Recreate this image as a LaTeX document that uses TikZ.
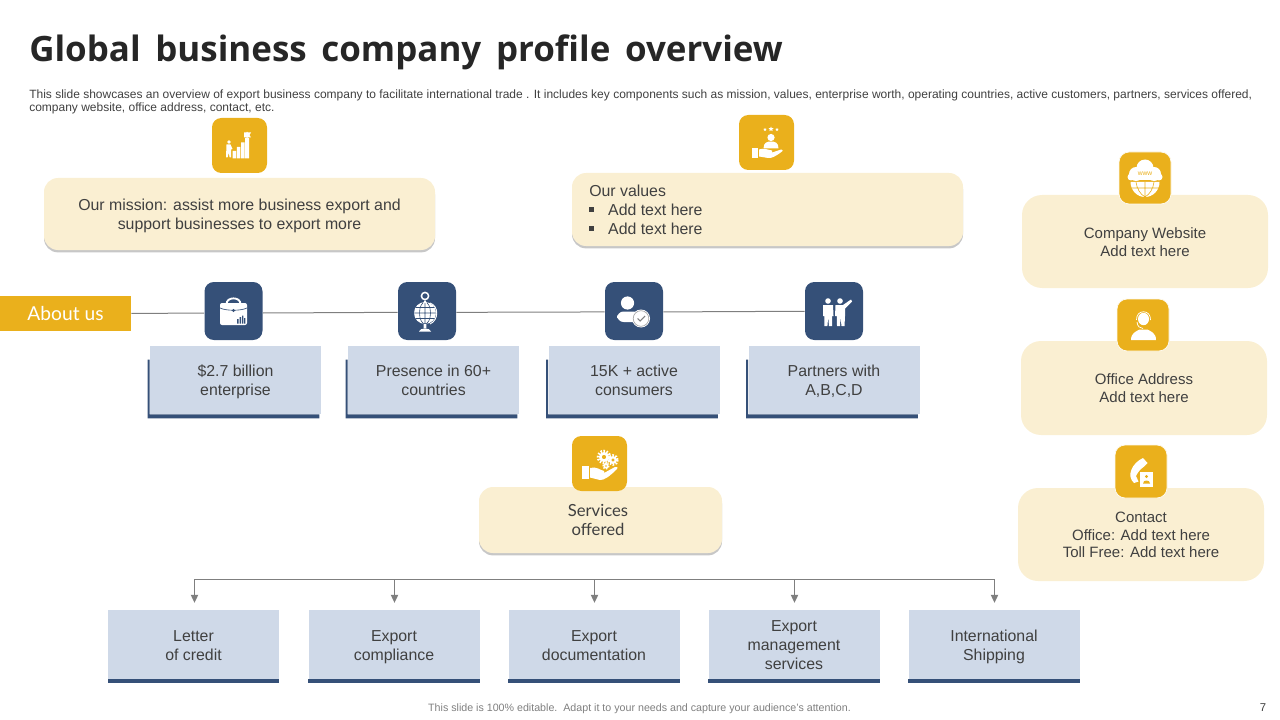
\documentclass[tikz,border=0pt]{standalone}
\usepackage{fontspec}
\setmainfont{Liberation Sans}
\newfontfamily\titlefont{Open Sans}
\newfontfamily\latofont{Lato}
\usetikzlibrary{shadows,calc,arrows.meta}
\definecolor{gold}{HTML}{EAB01C}
\definecolor{cream}{HTML}{FAEFD2}
\definecolor{navy}{HTML}{355078}
\definecolor{pale}{HTML}{CFD9E8}
\definecolor{ink}{HTML}{404040}
\definecolor{wire}{HTML}{7F7F7F}
\newcommand{\T}{\rule{0pt}{11.4pt}}
\tikzset{
  dims/.style 2 args={minimum width=#1*0.75pt,minimum height=#2*0.75pt},
  body/.style={text=ink,align=center,inner sep=0pt,font=\fontsize{11.9}{14.25}\selectfont,
    execute at end node={\rule[-3pt]{0pt}{3pt}}},
  creambox/.style={body,fill=cream,rounded corners=10.5pt,drop shadow={shadow xshift=0pt,shadow yshift=-1.8pt,opacity=.4,fill=black!55}},
  sidebox/.style={body,fill=cream,rounded corners=15pt,dims={246}{93},font=\fontsize{11.25}{13.4}\selectfont},
  palebox/.style={body,fill=pale,dims={171}{68}},
  lowbox/.style={body,fill=pale,dims={171}{70}},
  goldicon/.style={fill=gold,rounded corners=7pt,dims={55}{55},inner sep=0pt},
  sideicon/.style={fill=gold,draw=white!60!cream,line width=.6pt,rounded corners=7.5pt,dims={52}{52},inner sep=0pt},
  navyicon/.style={fill=navy,rounded corners=7pt,dims={58}{58},inner sep=0pt},
  rail/.style={draw=wire,line width=.75pt},
  feed/.style={draw=wire,line width=.75pt,-{Triangle[length=6pt,width=5.5pt]},shorten >=5.2pt},
  tiny/.style={inner sep=0pt,text=ink}
}
\newcommand{\lbar}[1]{\fill[navy] ([shift={(-2,14)}]#1.north west) -- ([shift={(0,14)}]#1.north west) -- (#1.south west) -- ([shift={(-2,0)}]#1.south east) -- ([shift={(-2,4)}]#1.south east) -- ([shift={(-2,4)}]#1.south west) -- cycle;}
\newcommand{\ubar}[1]{\fill[navy] ([shift={(0,-1)}]#1.south west) rectangle ([shift={(0,3)}]#1.south east);}
\newcommand{\tinystar}[3]{\fill[white,shift={(#1,#2)},scale=#3] (0,-1) -- (.3,-.3) -- (1,-.3) -- (.45,.15) -- (.65,.9) -- (0,.45) -- (-.65,.9) -- (-.45,.15) -- (-1,-.3) -- (-.3,-.3) -- cycle;}
\newcommand{\tinygear}[3]{\draw[white,line width=#3*0.45pt,dash pattern=on 1.1pt off 1.1pt] (#1,#2) circle (#3*1.15);\fill[white,even odd rule] (#1,#2) circle (#3) (#1,#2) circle (#3*.45);}
\begin{document}
\begin{tikzpicture}[x=0.75pt,y=-0.75pt]
\useasboundingbox (0,0) rectangle (1280,720);

% heading
\node[anchor=west,inner sep=0pt,text=black!85] (title) at (29,52) {\titlefont\fontsize{26.2}{30}\bfseries\selectfont\spaceskip=.42em Global business company profile overview};
\node[anchor=north west,inner sep=0pt,text=ink,align=left,font=\fontsize{9}{9.9}\selectfont] (intro) at (29,89.2) {This slide showcases an overview of export business company to facilitate international trade . It includes key components such as mission, values, enterprise worth, operating countries, active customers, partners, services offered,\\company website, office address, contact, etc.};

% about us rail
\node[fill=gold,dims={131}{35},inner sep=0pt,text=white,font=\latofont\fontsize{14.4}{16}\selectfont] (about) at (65.5,313.5) {About us};
\node[navyicon] (i1) at (233.5,311) {};
\node[navyicon] (i2) at (427,311) {};
\node[navyicon] (i3) at (634,311) {};
\node[navyicon] (i4) at (834,311) {};
\draw[rail] (about.east) -- ([yshift=-1.5pt]i1.west);
\draw[rail] ([yshift=-1.5pt]i1.east) -- ([yshift=-1pt]i2.west);
\draw[rail] ([yshift=-1pt]i2.east) -- ([yshift=-.7pt]i3.west);
\draw[rail] ([yshift=-.7pt]i3.east) -- ([yshift=-.2pt]i4.west);

% mission and values
\node[creambox,dims={391}{72}] (mission) at (239.5,214) {\T Our mission: assist more business export and\\support businesses to export more};
\node[goldicon] (missionicon) at (239.5,145.5) {};
\node[creambox,dims={391}{73}] (values) at (767.5,209.5) {};
\node[goldicon] (valuesicon) at (766.5,142.5) {};
\node[body,anchor=west,align=left] (valuestext) at (589,209.5) {\T Our values\\\rule[2.6pt]{3.2pt}{3.2pt}\hspace{11pt}Add text here\\\rule[2.6pt]{3.2pt}{3.2pt}\hspace{11pt}Add text here};

% fact boxes
\node[palebox] (f1) at (235.5,380) {\T\$2.7 billion\\enterprise};
\node[palebox] (f2) at (433.5,380) {\T Presence in 60+\\countries};
\node[palebox] (f3) at (634,380) {\T 15K + active\\consumers};
\node[palebox] (f4) at (834,380) {\T Partners with\\A,B,C,D};
\lbar{f1}\lbar{f2}\lbar{f3}\lbar{f4}

% right column
\node[sidebox] (web) at (1145,241.5) {\T Company Website\\Add text here};
\node[sideicon] (webicon) at (1145,178) {};
\node[sidebox,dims={246}{94}] (office) at (1144,388) {\T Office Address\\Add text here};
\node[sideicon] (officeicon) at (1143,325) {};
\node[sidebox] (contact) at (1141,534.5) {\T Contact\\Office: Add text here\\Toll Free: Add text here};
\node[sideicon,dims={52}{53}] (contacticon) at (1141,471.5) {};

% services
\node[creambox,dims={243}{66}] (services) at (600.5,520) {};
\node[body,font=\latofont\fontsize{12.5}{14.25}\selectfont] (servicestext) at (598,520) {\T Services\\offered};
\node[goldicon] (servicesicon) at (599.5,463.5) {};

% service tree
\node[lowbox] (s1) at (193.5,645) {\T Letter\\of credit};
\node[lowbox] (s2) at (394,645) {\T Export\\compliance};
\node[lowbox] (s3) at (594,645) {\T Export\\documentation};
\node[lowbox] (s4) at (794,645) {\T Export\\management\\services};
\node[lowbox] (s5) at (994,645) {\T International\\Shipping};
\ubar{s1}\ubar{s2}\ubar{s3}\ubar{s4}\ubar{s5}
\coordinate (t1) at (194.5,579);
\coordinate (t2) at (394.5,579);
\coordinate (t3) at (594.5,579);
\coordinate (t4) at (794.5,579);
\coordinate (t5) at (994.5,579);
\draw[rail] (t1) -- (t5);
\foreach \n in {1,...,5} \draw[feed] (t\n) -- (t\n |- s\n.north);

% footer
\node[tiny,text=wire,font=\fontsize{8}{9}\selectfont] (foot) at (639.5,709) {This slide is 100\% editable.\ \ Adapt it to your needs and capture your audience's attention.};
\node[tiny,font=\fontsize{8.5}{10}\selectfont] (page) at (1263,708) {7};

% --- icon: stairs and flag
\fill[white] (232.5,151) rectangle (236,158.5) (236.8,147) rectangle (240.3,158.5) (241,142.5) rectangle (244.5,158.5) (245.2,138) rectangle (249,158.5);
\fill[white] (246.7,138) rectangle (247.5,132) (244,132.5) -- (251,132.5) -- (249.5,135) -- (251,137.5) -- (244,137.5) -- cycle;
\fill[white] (229,142) circle (1.9) (226.5,144.5) -- (230.5,144.5) -- (232.5,149) -- (231,149.5) -- (231,157.5) -- (229.6,157.5) -- (228.8,152.5) -- (227.6,157.5) -- (226,157.5) -- cycle;
% --- icon: hand with person and stars
\tinystar{765}{129.5}{1.7}\tinystar{771}{129}{2.5}\tinystar{777}{129.5}{1.7}
\fill[white] (771,137.5) circle (3.6);
\fill[white] (763.5,148.5) .. controls (763.5,142.5) and (767,141.5) .. (771,141.5) .. controls (775,141.5) and (778.5,142.5) .. (778.5,148.5) -- cycle;
\fill[white] (751.5,148) rectangle (758,158);
\fill[white] (759,149.5) .. controls (764,147.5) and (768,150) .. (772,150.5) -- (772,152.5) -- (781,149.5) .. controls (783,149.5) and (783,151) .. (782,151.5) .. controls (776,156) and (772,158.5) .. (768,158) -- (759,156.5) -- cycle;
% --- icon: briefcase
\draw[white,line width=1.4pt] (226.5,304) .. controls (226.5,296.5) and (240.5,296.5) .. (240.5,304);
\fill[white,rounded corners=1.5pt] (220,303) rectangle (247,325);
\draw[navy,line width=.5pt] (220,308) .. controls (226,311) and (241,311) .. (247,308);
\fill[navy] (233.5,310.5) circle (1.6);
\fill[navy] (237.2,319) rectangle (238.6,323.5) (239.6,317) rectangle (241,323.5) (242,315.5) rectangle (243.4,323.5) (244.2,318) rectangle (245.4,323.5);
% --- icon: globe
\fill[white] (425,313) circle (11);
\begin{scope}
\clip (425,313) circle (11);
\draw[navy,line width=.45pt] (425,302) -- (425,324) (414,313) -- (436,313) (414,307.5) -- (436,307.5) (414,318.5) -- (436,318.5) (425,313) ellipse (5.5 and 11);
\end{scope}
\draw[white,line width=.7pt] (430,303) .. controls (439,306) and (439,320) .. (430,324);
\draw[white,line width=1.1pt] (425,296) circle (3.6);
\fill[white] (425,300) -- (423,303) -- (427,303) -- cycle;
\fill[white] (423.7,324) rectangle (426.3,328) (419,331.5) .. controls (420,327.5) and (430,327.5) .. (431,331.5) -- cycle;
% --- icon: person with check
\fill[white] (627.5,303) circle (6.6);
\fill[white,rounded corners=5pt] (617,311.5) rectangle (640,322);
\fill[white] (641,318.5) circle (9);
\draw[black!35,line width=.5pt] (641,318.5) circle (7.8);
\draw[black!50,line width=.8pt] (637.5,318.5) -- (640,321) -- (645,316);
% --- icon: two partners
\fill[white] (828,301) circle (2.8) (840,301) circle (2.8);
\fill[white] (823,305) -- (833,305) -- (833.5,316) -- (832,316) -- (832,326) -- (829,326) -- (828.2,317) -- (827.4,326) -- (824.4,326) -- (824.4,316) -- (823,316) -- cycle;
\fill[white] (835.5,305) -- (843,305) -- (851,299.5) -- (852,301.5) -- (845,308.5) -- (845,316) -- (844.5,326) -- (841.5,326) -- (840.5,317) -- (840,326) -- (837,326) -- (836.8,316) -- (835,316) -- cycle;
% --- icon: cloud and globe
\fill[white] (1145,168) circle (8.5) (1136,174) circle (7) (1154,174) circle (7) (1131,177) circle (3.5) (1159,177) circle (3.5);
\fill[white] (1131,173) rectangle (1159,180.5);
\node[inner sep=0pt,text=gold,font=\fontsize{5}{6}\selectfont] (www) at (1145,174) {www};
\fill[white] (1130.5,182) arc (180:0:14.5 and 15) -- cycle;
\draw[gold,line width=.45pt] (1145,182) -- (1145,197) (1131,188) -- (1159,188) (1136,182) .. controls (1137,189) and (1140,194) .. (1145,197) (1154,182) .. controls (1153,189) and (1150,194) .. (1145,197);
% --- icon: agent
\fill[white] (1143.5,319) ellipse (5.5 and 6.2);
\draw[white,line width=.55pt] (1136.5,320) .. controls (1136,309) and (1151,309) .. (1150.5,320) (1137,322) .. controls (1137.5,327) and (1140,328) .. (1143,328.5);
\fill[white] (1131,340) .. controls (1131,333) and (1136,331.5) .. (1139.5,329.5) -- (1147.5,329.5) .. controls (1151,331.5) and (1156,333) .. (1156,340) -- cycle;
% --- icon: phone and card
\fill[white] (1143,458) -- (1147.5,463) -- (1143.5,467) .. controls (1139,470) and (1137,474) .. (1136,476) -- (1138.5,481.5) -- (1134,483) .. controls (1126,476) and (1132,463) .. (1143,458) -- cycle;
\fill[white] (1140,472) rectangle (1153,487);
\fill[gold] (1146.5,476.5) circle (1.7) (1143,483.5) .. controls (1143,479.5) and (1150,479.5) .. (1150,483.5) -- cycle;
% --- icon: hand with gears
\tinygear{604}{457}{5}
\tinygear{613}{460}{4}
\tinygear{606}{466}{2.5}
\fill[white] (582,466) rectangle (589,479);
\fill[white] (590,468) .. controls (596,466) and (600,470) .. (604,471) -- (604,473) -- (615,467) .. controls (618,466.5) and (618,468.5) .. (617,469) .. controls (610,476) and (604,480.5) .. (600,480) -- (590,477.5) -- cycle;
\end{tikzpicture}
\end{document}
